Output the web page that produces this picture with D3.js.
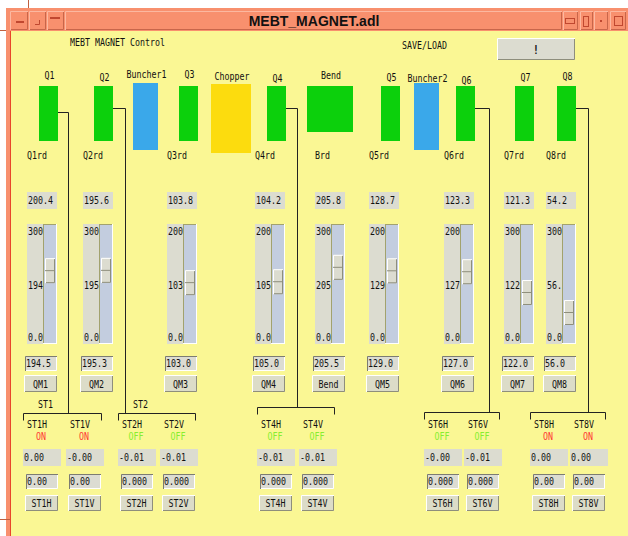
<!DOCTYPE html>
<html>
<head>
<meta charset="utf-8">
<script src="https://cdn.jsdelivr.net/npm/d3@7"></script>
<style>
html, body { margin: 0; padding: 0; background: #fff; }
svg { display: block; }
text { font-family: "DejaVu Sans Mono", monospace; font-size: 10px; fill: #111; }
.title { font-family: "Liberation Sans", Arial, sans-serif; font-size: 14px; font-weight: bold; }
</style>
</head>
<body>
<div id="panel"></div>
<script>
(function () {

    /* beamline elements */
    var ELEMENTS     = ["Q1", "Q2", "Buncher1", "Q3", "Chopper", "Q4", "Bend", "Q5", "Buncher2", "Q6", "Q7", "Q8"];
    var ELEMENT_KIND = ["quad", "quad", "buncher", "quad", "chopper", "quad", "bend", "quad", "buncher", "quad", "quad", "quad"];

    /* magnet power supplies */
    var MAGNETS     = ["Q1", "Q2", "Q3", "Q4", "Bend", "Q5", "Q6", "Q7", "Q8"];
    var RD_LABELS   = ["Q1rd", "Q2rd", "Q3rd", "Q4rd", "Brd", "Q5rd", "Q6rd", "Q7rd", "Q8rd"];
    var READBACK    = [200.4, 195.6, 103.8, 104.2, 205.8, 128.7, 123.3, 121.3, 54.2];
    var SLIDER_MAX  = [300, 300, 200, 200, 300, 200, 200, 300, 300];
    var SLIDER_VAL  = [194, 195, 103, 105, 205, 129, 127, 122, 56];
    var SLIDER_TXT  = ["194", "195", "103", "105", "205", "129", "127", "122", "56."];
    var SETPOINT    = [194.5, 195.3, 103.0, 105.0, 205.5, 129.0, 127.0, 122.0, 56.0];
    var MAG_BUTTONS = ["QM1", "QM2", "QM3", "QM4", "Bend", "QM5", "QM6", "QM7", "QM8"];

    /* steerers */
    var STEER_GROUPS = ["ST1", "ST2", "ST4", "ST6", "ST8"];
    var STEER_GLABEL = ["ST1", "ST2", "", "", ""];
    var STEER_FROM   = ["Q1", "Q2", "Q4", "Q6", "Q8"];
    var STEER_CH     = ["ST1H", "ST1V", "ST2H", "ST2V", "ST4H", "ST4V", "ST6H", "ST6V", "ST8H", "ST8V"];
    var STEER_STATE  = ["ON", "ON", "OFF", "OFF", "OFF", "OFF", "OFF", "OFF", "ON", "ON"];
    var STEER_RD     = ["0.00", "-0.00", "-0.01", "-0.01", "-0.01", "-0.01", "-0.00", "-0.01", "0.00", "0.00"];
    var STEER_SET    = ["0.00", "0.00", "0.000", "0.000", "0.000", "0.000", "0.000", "0.000", "0.00", "0.00"];

    /* layout (screen positions of widgets, not data) */
    var W = 628, H = 536;
    var ELEM_X   = [39, 94, 133, 179, 211, 267, 307, 381, 414, 456, 515, 557];
    var ELEM_LY  = [79, 81, 78, 78, 80, 82, 79, 81, 82, 84, 81, 80];
    var KIND = {
        quad:    { w: 19, y0: 86, y1: 141, color: "#0cd00c" },
        buncher: { w: 25, y0: 83, y1: 150, color: "#3aa8ea" },
        chopper: { w: 40, y0: 84, y1: 153, color: "#fcdc0e" },
        bend:    { w: 46, y0: 86, y1: 132, color: "#0cd00c" }
    };
    var COL_X     = [27, 83, 167, 255, 315, 369, 444, 504, 546];
    var CH_X      = [23, 66, 118, 160, 257, 299, 424, 464, 530, 570];
    var LINK_X    = [68, 125, 297, 489, 588];
    var LINK_Y    = [112, 108, 108, 108, 108];
    var BRACKET_Y = [413, 413, 407, 412, 412];

    var CHAR_W = 5;
    var GRAY   = "#dcdcd0";
    var YELLOW = "#faf794";
    var SALMON = "#f8906e";

    var stateColor = d3.scaleOrdinal().domain(["ON", "OFF"]).range(["#ff3434", "#86ee30"]);
    var fmt1 = d3.format(".1f");

    var svg = d3.select("#panel").append("svg")
        .attr("width", W).attr("height", H);

    function label(g, x, y, s, anchor, color) {
        var t = g.append("text")
            .attr("x", x).attr("y", y)
            .attr("text-anchor", anchor || "start")
            .attr("textLength", s.length * CHAR_W)
            .attr("lengthAdjust", "spacingAndGlyphs")
            .text(s);
        if (color) t.style("fill", color);
        return t;
    }

    /* box with 1px bevel; raised = light top-left */
    function bevel(g, x, y, w, h, fill, light, dark) {
        g.append("rect").attr("x", x).attr("y", y).attr("width", w).attr("height", h).attr("fill", fill);
        g.append("path")
            .attr("d", "M" + (x + 0.5) + "," + (y + h) + "V" + (y + 0.5) + "H" + (x + w))
            .attr("stroke", light).attr("fill", "none");
        g.append("path")
            .attr("d", "M" + (x + 1) + "," + (y + h - 0.5) + "H" + (x + w - 0.5) + "V" + (y + 1))
            .attr("stroke", dark).attr("fill", "none");
    }
    function button(g, x, y, w, h, s) {
        bevel(g, x, y, w, h, "#dcdcc8", "#ffffff", "#8e8e7c");
        label(g, x + w / 2, y + h / 2 + 4, s, "middle");
    }

    /* window frame */
    svg.append("rect").attr("x", 6).attr("y", 8).attr("width", W - 6).attr("height", H - 8).attr("fill", SALMON);
    svg.append("rect").attr("x", 11).attr("y", 31).attr("width", W - 11).attr("height", H - 31).attr("fill", YELLOW);
    svg.append("line").attr("x1", 10.5).attr("x2", 10.5).attr("y1", 31).attr("y2", H).attr("stroke", "#e8462a");
    svg.append("line").attr("x1", 28.5).attr("x2", 28.5).attr("y1", 0).attr("y2", 8).attr("stroke", "#c06040");
    svg.append("line").attr("x1", 0).attr("x2", 6).attr("y1", 30.5).attr("y2", 30.5).attr("stroke", "#c06040");
    svg.append("line").attr("x1", 0).attr("x2", 10).attr("y1", 519.5).attr("y2", 519.5).attr("stroke", "#c06040");

    var tb = svg.append("g");
    var TB_BTNS = [[10, 18], [29, 17], [47, 17], [563, 15], [580, 13], [594, 14], [610, 16]];
    TB_BTNS.forEach(function (b) {
        bevel(tb, b[0], 11, b[1], 19, SALMON, "#fcb8a0", "#c8664a");
    });
    bevel(tb, 65, 11, 497, 19, SALMON, "#fcb8a0", "#c8664a");
    /* title-bar glyphs */
    tb.append("rect").attr("x", 16).attr("y", 21).attr("width", 8).attr("height", 2).attr("fill", "#c04830");
    tb.append("path").attr("d", "M39.5,20V24.5H35").attr("stroke", "#c04830").attr("fill", "none");
    tb.append("rect").attr("x", 50).attr("y", 17).attr("width", 10).attr("height", 2).attr("fill", "#c04830");
    tb.append("rect").attr("x", 565.5).attr("y", 18.5).attr("width", 9).attr("height", 5).attr("fill", "none").attr("stroke", "#c04830");
    tb.append("rect").attr("x", 583.5).attr("y", 16.5).attr("width", 5).attr("height", 10).attr("fill", "none").attr("stroke", "#c04830");
    tb.append("rect").attr("x", 600).attr("y", 20).attr("width", 2).attr("height", 2).attr("fill", "#c04830");
    tb.append("rect").attr("x", 614.5).attr("y", 16.5).attr("width", 8).attr("height", 9).attr("fill", "none").attr("stroke", "#c04830");
    tb.append("text").attr("class", "title").attr("x", 314).attr("y", 26)
        .attr("text-anchor", "middle").text("MEBT_MAGNET.adl");

    var g = svg.append("g");

    /* header */
    label(g, 70, 46, "MEBT MAGNET Control");
    label(g, 402, 49, "SAVE/LOAD");
    bevel(g, 497, 38, 78, 22, "#dcdcd0", "#ffffff", "#8e8e7c");
    g.append("text").attr("x", 536).attr("y", 54).attr("text-anchor", "middle")
        .style("font-size", "13px").text("!");

    /* beamline elements */
    ELEMENTS.forEach(function (name, i) {
        var k = KIND[ELEMENT_KIND[i]];
        var x = ELEM_X[i];
        g.append("rect")
            .attr("x", x).attr("y", k.y0)
            .attr("width", k.w).attr("height", k.y1 - k.y0)
            .attr("fill", k.color);
        label(g, x + k.w / 2 + 1, ELEM_LY[i], name, "middle");
    });

    /* links from quads to steerer groups */
    STEER_GROUPS.forEach(function (grp, i) {
        var e = ELEMENTS.indexOf(STEER_FROM[i]);
        var x0 = ELEM_X[e] + KIND[ELEMENT_KIND[e]].w;
        var lx = LINK_X[i] + 0.5;
        var by = BRACKET_Y[i] + 0.5;
        var bl = CH_X[2 * i] + 0.5;
        var br = CH_X[2 * i + 1] + 35.5;
        g.append("path")
            .attr("d", "M" + x0 + "," + (LINK_Y[i] + 0.5) + "H" + lx + "V" + by)
            .attr("stroke", "#222").attr("fill", "none");
        g.append("path")
            .attr("d", "M" + bl + "," + (by + 7) + "V" + by + "H" + br + "V" + (by + 7))
            .attr("stroke", "#222").attr("fill", "none");
        if (STEER_GLABEL[i]) label(g, bl + 22, by - 6, STEER_GLABEL[i], "middle");
    });

    /* magnet columns */
    MAGNETS.forEach(function (m, i) {
        var cx = COL_X[i];

        label(g, cx, 159, RD_LABELS[i]);

        g.append("rect").attr("x", cx).attr("y", 192).attr("width", 30).attr("height", 17).attr("fill", GRAY);
        label(g, cx + 1, 204, fmt1(READBACK[i]));

        /* slider */
        var sTop = 224, sBot = 344, thumbH = 25;
        var y = d3.scaleLinear().domain([0, SLIDER_MAX[i]]).range([sBot - 2 - thumbH, sTop + 2]);
        g.append("rect").attr("x", cx).attr("y", sTop).attr("width", 16).attr("height", sBot - sTop).attr("fill", GRAY);
        g.append("rect").attr("x", cx + 16).attr("y", sTop).attr("width", 14).attr("height", sBot - sTop).attr("fill", "#c3cddf");
        g.append("line").attr("x1", cx + 16.5).attr("x2", cx + 16.5).attr("y1", sTop).attr("y2", sBot).attr("stroke", "#a2a26e");
        g.append("line").attr("x1", cx + 29.5).attr("x2", cx + 29.5).attr("y1", sTop).attr("y2", sBot).attr("stroke", "#ffffff");
        g.append("line").attr("x1", cx + 16).attr("x2", cx + 30).attr("y1", sBot - 0.5).attr("y2", sBot - 0.5).attr("stroke", "#ffffff");
        g.append("line").attr("x1", cx + 17).attr("x2", cx + 29).attr("y1", sTop + 0.5).attr("y2", sTop + 0.5).attr("stroke", "#a2a26e");
        var ty = y(SLIDER_VAL[i]);
        bevel(g, cx + 18, ty, 10, thumbH, "#dcdcd0", "#ffffff", "#8e8e7c");
        g.append("line").attr("x1", cx + 18).attr("x2", cx + 28).attr("y1", ty + 12.5).attr("y2", ty + 12.5).attr("stroke", "#8e8e7c");
        label(g, cx + 1, 235, String(SLIDER_MAX[i]));
        label(g, cx + 1, 289, SLIDER_TXT[i]);
        label(g, cx + 1, 341, "0.0");

        /* setpoint entry */
        bevel(g, cx - 2, 356, 32, 15, "#dcdcd2", "#7c7c72", "#ffffff");
        label(g, cx - 1, 367, fmt1(SETPOINT[i]));

        button(g, cx - 3, 375, 33, 17, MAG_BUTTONS[i]);
    });

    /* steerer channels */
    STEER_CH.forEach(function (ch, i) {
        var cx = CH_X[i];
        label(g, cx + 4, 428, ch);
        label(g, cx + 18, 440, STEER_STATE[i], "middle", stateColor(STEER_STATE[i]));
        g.append("rect").attr("x", cx).attr("y", 449).attr("width", 38).attr("height", 17).attr("fill", GRAY);
        label(g, cx + 1, 461, STEER_RD[i]);
        bevel(g, cx + 3, 474, 32, 15, "#dcdcd2", "#7c7c72", "#ffffff");
        label(g, cx + 4, 485, STEER_SET[i]);
        button(g, cx + 2, 495, 33, 16, ch);
    });

}());
</script>
</body>
</html>
